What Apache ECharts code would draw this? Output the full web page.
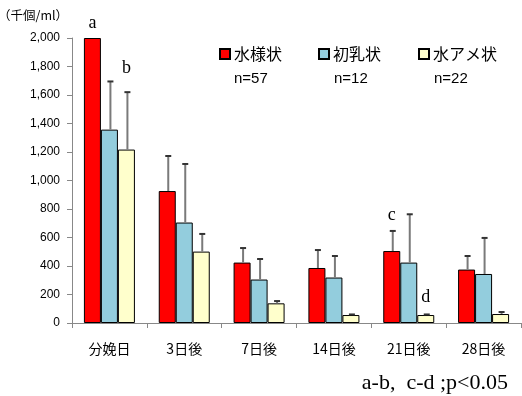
<!DOCTYPE html>
<html><head><meta charset="utf-8">
<script src="https://cdn.jsdelivr.net/npm/echarts@6/dist/echarts.min.js"></script>
<style>html,body{margin:0;padding:0;background:#fff}#c{width:522px;height:396px}</style>
</head><body><div id="c"></div>
<script>
var categories = ['分娩日','3日後','7日後','14日後','21日後','28日後'];
var seriesNames = ['水様状','初乳状','水アメ状'];
var seriesN = ['n=57','n=12','n=22'];
var meanWatery = [2000, 926, 424, 386, 505, 375];
var sdWatery   = [0, 246, 102, 126, 141, 95];
var meanColostrum = [1357, 705, 305, 319, 424, 344];
var sdColostrum   = [338, 411, 144, 151, 339, 253];
var meanSyrup = [1217, 501, 138, 56, 56, 63];
var sdSyrup   = [403, 124, 16, 4, 4, 14];
var yTicks = [0,200,400,600,800,1000,1200,1400,1600,1800,2000];
// annotation letters: [category index, series index, value position, text]
var annotations = [[0,0,2105,'a'],[0,2,1790,'b'],[4,0,755,'c'],[4,2,182,'d']];
var footnote = 'a-b,  c-d ;p<0.05';
var unitLabel = '（千個/ml）';

var colors = ['#FF0000','#93CDDD','#FFFFCC'];
var means = [meanWatery, meanColostrum, meanSyrup];
var sds = [sdWatery, sdColostrum, sdSyrup];
var BW = 17;

var chart = echarts.init(document.getElementById('c'), null, {renderer:'canvas'});
var series = [];
for (var s=0;s<3;s++){
  series.push({
    name: seriesNames[s], type:'bar', data: means[s], barWidth: BW, barGap: '0%',
    itemStyle:{color:colors[s], borderColor:'#000', borderWidth:1},
    z: 2, animation:false
  });
}
var errData = [];
for (var s2=0;s2<3;s2++){
  for (var i=0;i<categories.length;i++){
    if (sds[s2][i] > 0) errData.push([i, means[s2][i], sds[s2][i], s2]);
  }
}
series.push({
  type:'custom', data: errData, z: 3, animation:false, silent:true, clip:false,
  renderItem: function(params, api){
    var cat = api.value(0), v = api.value(1), e = api.value(2), si = api.value(3);
    var p0 = api.coord([cat, v]); var p1 = api.coord([cat, v+e]);
    var x = p0[0] + (si-1)*BW + 1;
    return {type:'group', children:[
      {type:'line', shape:{x1:x,y1:p0[1],x2:x,y2:p1[1]}, style:{stroke:'#7a7a7a', lineWidth:2}},
      {type:'line', shape:{x1:x-3,y1:p1[1],x2:x+3,y2:p1[1]}, style:{stroke:'#333', lineWidth:2}}
    ]};
  }
});
series.push({
  type:'custom', data: annotations, z: 4, animation:false, silent:true, clip:false,
  renderItem: function(params, api){
    var cat = api.value(0), si = api.value(1), v = api.value(2);
    var p = api.coord([cat, v]);
    return {type:'text', x: p[0] + (si-1)*BW, y: p[1], style:{
      text: annotations[params.dataIndex][3], fill:'#000',
      font:'18px "Liberation Serif", "DejaVu Serif", serif', align:'center', verticalAlign:'middle'}};
  }
});

var legends = [];
var legendLeft = [219, 318, 418];
for (var k=0;k<3;k++){
  legends.push({data:[seriesNames[k]], left: legendLeft[k], top: 46, icon:'rect', itemWidth:10, itemHeight:10,
    itemGap: 0, padding:0, textStyle:{fontSize:16, color:'#000', fontFamily:'"Noto Sans CJK JP", sans-serif', padding:[0,0,0,-1]}, selectedMode:false});
}
var graphics = [
  {type:'text', left: -2, top: 9, style:{text: unitLabel, font:'12.5px "Noto Sans CJK JP", sans-serif', fill:'#000'}},
  {type:'text', right: 14, top: 372, style:{text: footnote, font:'22px "Liberation Serif", "DejaVu Serif", serif', fill:'#000'}}
];
var nLeft = [234, 334, 434];
for (var m=0;m<3;m++){
  graphics.push({type:'text', left: nLeft[m], top: 71, style:{text: seriesN[m], font:'15px "Liberation Sans", Arial, sans-serif', fill:'#000'}});
}

chart.setOption({
  animation:false,
  grid:{left:72, right:1, top:38, bottom:73},
  legend: legends,
  xAxis:{type:'category', data: categories, boundaryGap:true,
    axisLine:{lineStyle:{color:'#888', width:1}},
    axisTick:{show:true, length:5, lineStyle:{color:'#888'}},
    axisLabel:{margin:19, fontSize:14, color:'#000', fontFamily:'"Noto Sans CJK JP", sans-serif'}},
  yAxis:{type:'value', min:0, max:2000, interval:200,
    splitLine:{show:false},
    axisLine:{show:true, lineStyle:{color:'#888', width:1}},
    axisTick:{show:true, length:5, lineStyle:{color:'#888'}},
    axisLabel:{margin:12, fontSize:12, color:'#000', fontFamily:'"Liberation Sans", Arial, sans-serif',
      formatter:function(v){ return yTicks.indexOf(v)>=0 ? v.toLocaleString('en-US') : ''; }}},
  series: series,
  graphic: graphics
});
</script></body></html>
